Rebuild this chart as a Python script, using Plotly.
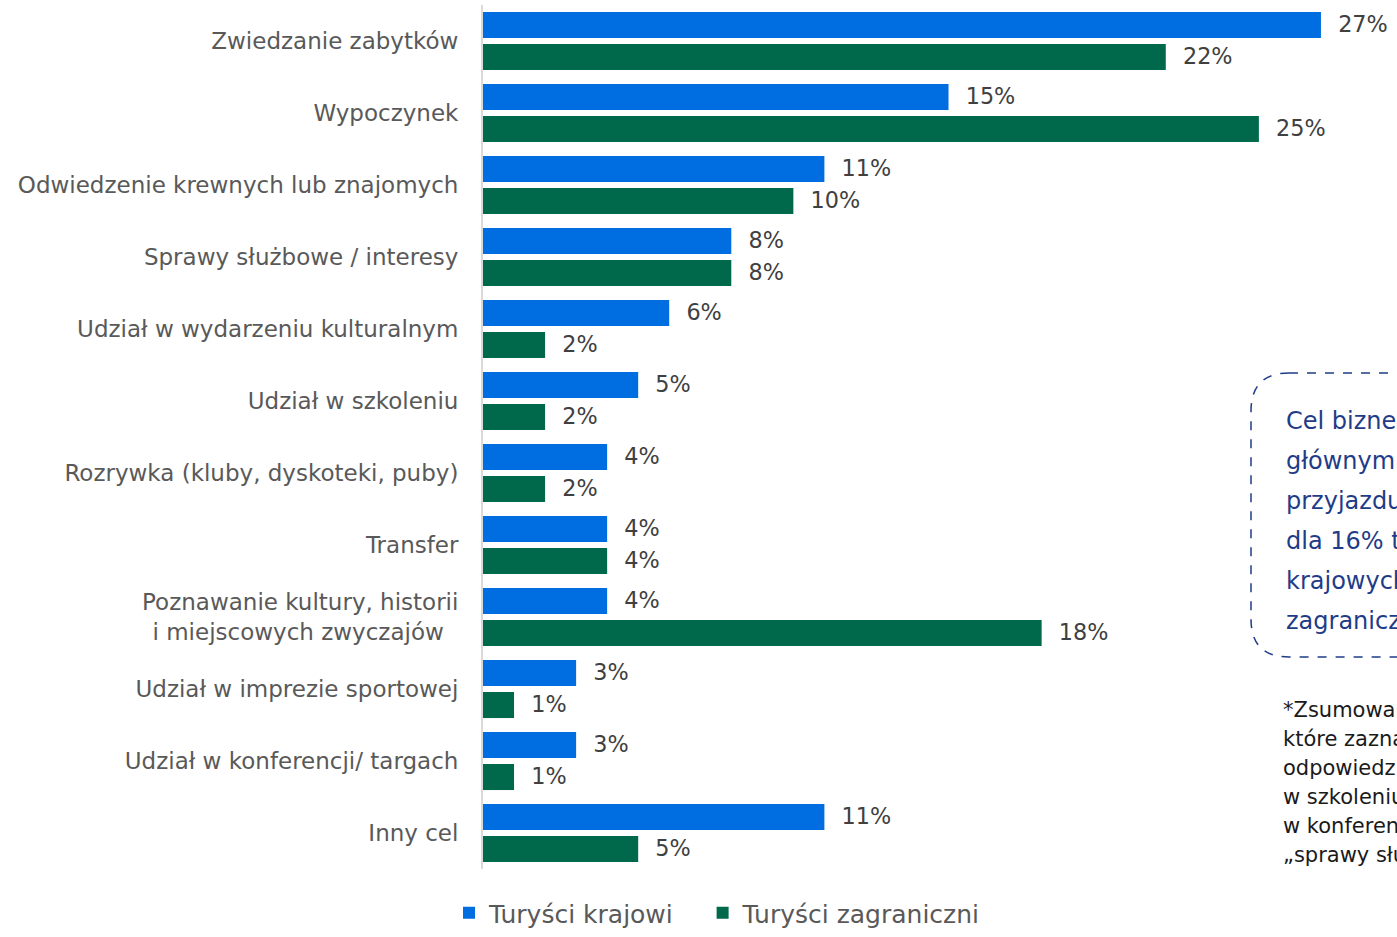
import plotly.graph_objects as go

categories = [
    "Zwiedzanie zabytków",
    "Wypoczynek",
    "Odwiedzenie krewnych lub znajomych",
    "Sprawy służbowe / interesy",
    "Udział w wydarzeniu kulturalnym",
    "Udział w szkoleniu",
    "Rozrywka (kluby, dyskoteki, puby)",
    "Transfer",
    "Poznawanie kultury, historii<br>i miejscowych zwyczajów\u00a0\u00a0",
    "Udział w imprezie sportowej",
    "Udział w konferencji/ targach",
    "Inny cel",
]
krajowi = [27, 15, 11, 8, 6, 5, 4, 4, 4, 3, 3, 11]
zagraniczni = [22, 25, 10, 8, 2, 2, 2, 4, 18, 1, 1, 5]

box_lines = ["Cel biznesowy* był", "głównym celem", "przyjazdu do Krakowa",
             "dla 16% turystów", "krajowych i 9%", "zagranicznych"]
note_lines = ["*Zsumowano odpowiedzi,", "które zaznaczały", "odpowiedzi: udział",
              "w szkoleniu, udział", "w konferencji/targach,", "„sprawy służbowe”"]

BLUE = "#006EE0"
GREEN = "#00694B"
NAVY = "#1F3C88"
FONT = "DejaVu Sans"

W, H = 1397, 937
ML, MT, MB = 483, 5, 68
PH = H - MT - MB


def py(y):
    # pixel row -> paper y
    return (H - MB - y) / PH


def px_(x):
    return (x - ML) / (W - ML)


series = [
    ("Turyści krajowi\u00a0\u00a0\u00a0", krajowi, BLUE),
    ("Turyści zagraniczni", zagraniczni, GREEN),
]

fig = go.Figure()
for name, vals, col in series:
    fig.add_trace(go.Bar(
        y=categories, x=vals, name=name, orientation="h",
        marker=dict(color=col, line=dict(width=0)),
        text=[f"\u00a0\u00a0{v}%" for v in vals],
        textposition="outside",
        textfont=dict(size=24, color="#404040", family=FONT),
        cliponaxis=False,
    ))

# dashed rounded box on the right (cut off by the page edge)
x0, x1 = px_(1251), 1.2
y0, y1 = py(657), py(373)
rx, ry = 38 / (W - ML), 38 / PH
path = (f"M {x0+rx},{y1} L {x1},{y1} L {x1},{y0} L {x0+rx},{y0} "
        f"Q {x0},{y0} {x0},{y0+ry} L {x0},{y1-ry} Q {x0},{y1} {x0+rx},{y1}")
fig.add_shape(type="path", path=path, xref="paper", yref="paper",
              line=dict(color=NAVY, width=1.5, dash="dash"))

for i, line in enumerate(box_lines):
    fig.add_annotation(
        text=line, xref="paper", yref="paper", x=px_(1284), y=py(421 + 40 * i),
        xanchor="left", yanchor="middle", showarrow=False,
        font=dict(size=24, color=NAVY, family=FONT),
    )

for i, line in enumerate(note_lines):
    fig.add_annotation(
        text=line, xref="paper", yref="paper", x=px_(1281), y=py(710 + 29 * i),
        xanchor="left", yanchor="middle", showarrow=False,
        font=dict(size=21, color="#1a1a1a", family=FONT),
    )

fig.update_layout(
    width=W, height=H,
    margin=dict(l=ML, r=0, t=MT, b=MB),
    paper_bgcolor="white", plot_bgcolor="white",
    barmode="group", bargap=0.11, bargroupgap=0.1875,
    font=dict(family=FONT, color="#595959"),
    showlegend=True,
    # bottom edge of the legend sits on the page edge so it does not push the margin
    legend=dict(orientation="h", x=px_(449), xanchor="left", y=py(936), yanchor="bottom",
                font=dict(size=25, color="#595959", family=FONT),
                traceorder="normal"),
    xaxis=dict(range=[0, 29.45], visible=False, fixedrange=True),
    yaxis=dict(autorange="reversed", showline=True, linecolor="#d9d9d9", linewidth=2,
               ticks="", ticklabelstandoff=18,
               tickfont=dict(size=23, color="#595959", family=FONT)),
)

fig.write_html("out.html", config={"displayModeBar": False},
               post_script="document.body.style.margin='0';document.body.style.overflow='hidden';")
